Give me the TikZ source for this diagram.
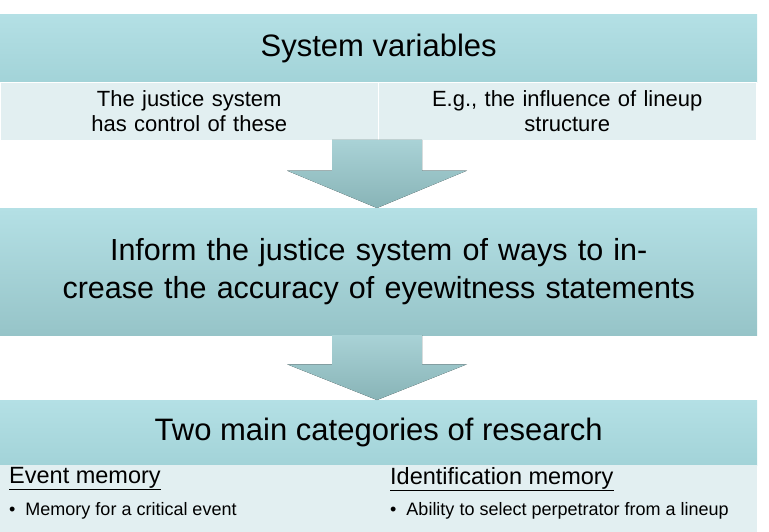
\documentclass[tikz,border=0pt]{standalone}
\usepackage{fontspec}
\setmainfont{Liberation Sans}
\usetikzlibrary{positioning}
\definecolor{headtop}{HTML}{B4E0E5}
\definecolor{headbot}{HTML}{A2D3D8}
\definecolor{subfill}{HTML}{E2EFF1}
\definecolor{arrtop}{HTML}{A9D2D6}
\definecolor{arrbot}{HTML}{88B4B7}
\definecolor{midbot}{HTML}{96C4C8}
\tikzset{
  head/.style={minimum width=757pt,top color=headtop,bottom color=headbot,draw=none,inner sep=0pt,font=\fontsize{31}{36}\selectfont},
  sub/.style={minimum width=378pt,text width=372pt,align=center,fill=subfill,draw=white,inner sep=0pt,font=\fontsize{22}{25}\selectfont},
  cat/.style={anchor=north west,inner sep=0pt,font=\fontsize{23.5}{27}\selectfont},
  bul/.style={anchor=north west,inner sep=0pt,font=\fontsize{18}{22}\selectfont},
  down/.style={top color=arrtop,bottom color=arrbot,draw=none}
}
\begin{document}
\begin{tikzpicture}[x=1pt,y=-1pt]
  \useasboundingbox (0,0) rectangle (769,532);
  % top block
  \node[head,minimum height=68pt,anchor=north west] (sys) at (0,14) {System variables};
  \node[sub,minimum height=58pt,anchor=north west] (ctrl) at (0,82) {\hyphenpenalty=10000 The justice system has control of these};
  \node[sub,minimum height=58pt,anchor=north west] (eg) at (378,82) {\hyphenpenalty=10000 E.g., the influence of lineup\\ structure};
  % middle block
  \node[minimum width=757pt,minimum height=127pt,anchor=north west,top color=headtop,bottom color=midbot,inner sep=0pt,
        text width=720pt,align=center,font=\fontsize{30.5}{38}\selectfont] (inform) at (0,208)
        {\hyphenpenalty=10000 Inform the justice system of ways to increase the accuracy of eyewitness statements};
  % bottom block
  \node[head,minimum height=65pt,anchor=north west] (two) at (0,400) {Two main categories of research};
  \node[minimum width=757pt,minimum height=67pt,anchor=north west,fill=subfill,inner sep=0pt] (cats) at (0,465) {};
  \node[cat] (ev) at (9,467) {\underline{Event memory}};
  \node[bul] (evb) at (9,502) {\textbullet\ \ Memory for a critical event};
  \node[cat] (id) at (390,467) {\underline{Identification memory}};
  \node[bul] (idb) at (390,502) {\textbullet\ \ Ability to select perpetrator from a lineup};
  % arrows
  \foreach \y/\t in {140/208,335/400}
    \fill[down] (332,\y) -- (422,\y) -- (422,\y+0.45*\t-0.45*\y) -- (467,\y+0.45*\t-0.45*\y)
      -- (377,\t) -- (287,\y+0.45*\t-0.45*\y) -- (332,\y+0.45*\t-0.45*\y) -- cycle;
\end{tikzpicture}
\end{document}
